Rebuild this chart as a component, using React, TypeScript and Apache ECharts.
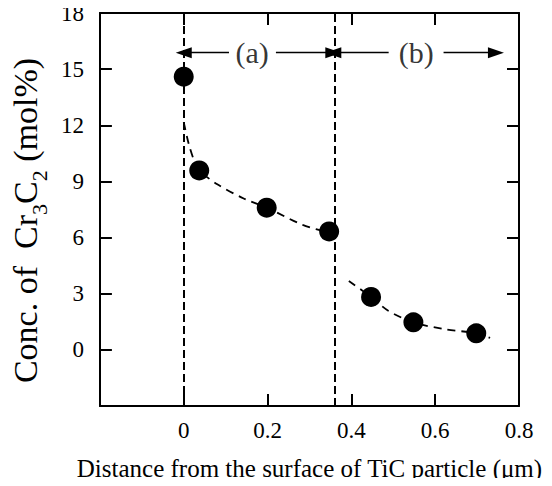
import React, { useEffect, useRef } from "react";
import * as echarts from "echarts";

// Measured points
const pointX = [0.0, 0.037, 0.198, 0.347, 0.447, 0.548, 0.698];
const pointY = [14.6, 9.59, 7.6, 6.33, 2.83, 1.47, 0.885];

// Dashed fitted curves
const curveAX = [0.0, 0.012, 0.025, 0.037, 0.08, 0.143, 0.198, 0.284, 0.357];
const curveAY = [12.16, 11.0, 10.1, 9.59, 8.85, 8.09, 7.6, 6.68, 6.2];
const curveBX = [0.394, 0.447, 0.488, 0.548, 0.621, 0.698, 0.731];
const curveBY = [3.68, 2.83, 2.09, 1.47, 1.11, 0.885, 0.64];

// Region boundaries and annotations
const boundaryX = [0, 0.357];
const arrowY = 15.88;
const regionLabels = ["(a)", "(b)"];
const regionLabelX = [0.163, 0.555];
// [arrow tip, gap start] pairs
const arrowSegments = [
  [0, 0.108],
  [0.357, 0.22],
  [0.357, 0.489],
  [0.745, 0.62],
];

const xTicks = { min: -0.2, max: 0.8, interval: 0.2 };
const yTicks = { min: -3, max: 18, interval: 3 };

const FONT = "Liberation Serif";

export default function App() {
  const ref = useRef<HTMLDivElement>(null);
  useEffect(() => {
    if (!ref.current) return;
    const chart = echarts.init(ref.current, null, { renderer: "svg" });
    const axisLine = { show: true, onZero: false, lineStyle: { color: "#000", width: 2 } };
    const axisTick = { show: true, inside: true, length: 12, lineStyle: { color: "#000", width: 2 } };
    const xFmt = (v: number) => (v < -0.001 ? "" : String(Number(v.toFixed(1))));
    const yFmt = (v: number) => (v < -0.001 ? "" : String(Math.round(v)));
    const option: any = {
      animation: false,
      backgroundColor: "#fff",
      grid: { left: 94.5, top: 13, right: 33, bottom: 76.7 },
      xAxis: [
        {
          type: "value",
          ...xTicks,
          position: "bottom",
          axisLine,
          axisTick,
          splitLine: { show: false },
          axisLabel: { formatter: xFmt, color: "#000", fontFamily: FONT, fontSize: 23, margin: 13 },
          name: "Distance from the surface of TiC particle (\u03bcm)",
          nameLocation: "middle",
          nameGap: 50,
          nameTextStyle: { color: "#000", fontFamily: FONT, fontSize: 25 },
        },
        {
          type: "value",
          ...xTicks,
          position: "top",
          axisLine,
          axisTick,
          splitLine: { show: false },
          axisLabel: { show: false },
        },
      ],
      yAxis: [
        {
          type: "value",
          ...yTicks,
          position: "left",
          axisLine,
          axisTick,
          splitLine: { show: false },
          axisLabel: { formatter: yFmt, color: "#000", fontFamily: FONT, fontSize: 23, margin: 16, padding: [4, 0, 0, 0] },
          name: "{n|Conc. of  Cr}{s|3}{n|C}{s|2}{n| (mol%)}",
          nameLocation: "middle",
          nameGap: 46,
          nameTextStyle: {
            color: "#000",
            fontFamily: FONT,
            padding: [0, 22, 0, 0],
            rich: {
              n: { fontSize: 34, lineHeight: 34, verticalAlign: "top", fontFamily: FONT, color: "#000" },
              s: { fontSize: 22, lineHeight: 22, padding: [20, 0, 0, 0], verticalAlign: "top", fontFamily: FONT, color: "#000" },
            },
          },
        },
        {
          type: "value",
          ...yTicks,
          position: "right",
          axisLine,
          axisTick,
          splitLine: { show: false },
          axisLabel: { show: false },
        },
      ],
      series: [
        {
          type: "line",
          data: curveAX.map((x, i) => [x, curveAY[i]]),
          smooth: 0.3,
          showSymbol: false,
          lineStyle: { color: "#000", width: 1.8, type: [8, 6] },
          z: 2,
          markLine: {
            silent: true,
            symbol: "none",
            label: { show: false },
            lineStyle: { color: "#000", width: 2, type: [8, 4] },
            data: boundaryX.map((x) => ({ xAxis: x })),
          },
        },
        {
          type: "line",
          data: curveBX.map((x, i) => [x, curveBY[i]]),
          smooth: 0.3,
          showSymbol: false,
          lineStyle: { color: "#000", width: 1.8, type: [8, 6] },
          z: 2,
          markLine: {
            silent: true,
            label: { show: false },
            symbolSize: [11, 16],
            lineStyle: { color: "#000", width: 1.3, type: "solid" },
            data: arrowSegments.map(([tip, gap]) => [
              { coord: [gap, arrowY], symbol: "none" },
              { coord: [tip, arrowY], symbol: "triangle" },
            ]),
          },
        },
        {
          type: "scatter",
          data: pointX.map((x, i) => [x, pointY[i]]),
          symbol: "circle",
          symbolSize: 20,
          itemStyle: { color: "#000", opacity: 1 },
          z: 3,
        },
        {
          type: "scatter",
          data: regionLabelX.map((x, i) => ({ value: [x, arrowY], name: regionLabels[i] })),
          symbolSize: 0,
          label: {
            show: true,
            position: "inside",
            formatter: (p: any) => p.name,
            color: "#000",
            fontFamily: FONT,
            fontSize: 30,
          },
          z: 4,
        },
      ],
    };
    chart.setOption(option);
    return () => chart.dispose();
  }, []);
  return <div ref={ref} style={{ width: 552, height: 486, margin: -8 }} />;
}
